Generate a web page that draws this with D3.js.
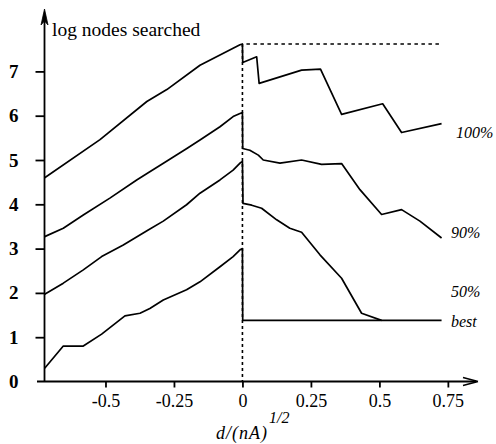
<!DOCTYPE html>
<html><head><meta charset="utf-8">
<script src="https://cdn.jsdelivr.net/npm/d3@7"></script>
<style>
html,body{margin:0;padding:0;background:#fff;}
</style></head>
<body>
<svg id="c" width="496" height="444" font-family="Liberation Serif"></svg>
<script>
// ---- data ----
const xTicks = [-0.5, -0.25, 0, 0.25, 0.5, 0.75];
const xTickLabels = ["-0.5", "-0.25", "0", "0.25", "0.5", "0.75"];
const yTicks = [0, 1, 2, 3, 4, 5, 6, 7];
const seriesNames = ["100%", "90%", "50%", "best"];

const x100 = [-0.722,-0.520,-0.349,-0.276,-0.155,-0.082,-0.034,-0.009,0.000,0.001,0.052,0.061,0.216,0.285,0.362,0.512,0.581,0.727];
const y100 = [4.60,5.46,6.32,6.59,7.14,7.37,7.52,7.60,7.62,7.20,7.33,6.73,7.03,7.05,6.03,6.27,5.62,5.82];

const x90 = [-0.722,-0.654,-0.581,-0.484,-0.386,-0.344,-0.290,-0.203,-0.155,-0.082,-0.034,-0.009,0.000,0.001,0.027,0.058,0.076,0.137,0.216,0.289,0.362,0.429,0.508,0.581,0.648,0.727];
const y90 = [3.27,3.46,3.76,4.14,4.55,4.71,4.92,5.26,5.45,5.75,5.98,6.05,6.07,5.26,5.22,5.11,5.00,4.93,5.00,4.90,4.92,4.33,3.77,3.88,3.62,3.24];

const x50 = [-0.722,-0.654,-0.581,-0.514,-0.435,-0.344,-0.289,-0.204,-0.155,-0.082,-0.034,-0.007,0.000,0.002,0.034,0.070,0.125,0.173,0.216,0.283,0.362,0.435,0.508];
const y50 = [1.97,2.22,2.52,2.82,3.08,3.42,3.62,3.99,4.25,4.55,4.77,4.94,4.97,4.02,3.98,3.91,3.65,3.46,3.37,2.86,2.33,1.54,1.38];

const xBest = [-0.722,-0.654,-0.581,-0.514,-0.429,-0.374,-0.338,-0.289,-0.204,-0.155,-0.082,-0.034,-0.007,0.000,0.001,0.727];
const yBest = [0.30,0.80,0.80,1.07,1.48,1.54,1.65,1.84,2.07,2.25,2.59,2.82,2.98,3.00,1.38,1.38];

const refLevel = 7.62;   // dashed horizontal level
const refXEnd = 0.727;

const FONT = "Liberation Serif";

// ---- scales ----
const svg = d3.select("#c");
const x = d3.scaleLinear().domain([-0.75, 0.86]).range([37, 478]);
const y = d3.scaleLinear().domain([0, 8]).range([381.5, 27.1]);
const axX = x(-0.7226);

// x axis
const gx = svg.append("g").attr("transform", `translate(0,${y(0)})`)
  .call(d3.axisBottom(x).tickValues(xTicks).tickFormat((d,i)=>xTickLabels[i]).tickSize(6).tickPadding(7).tickSizeOuter(0));
gx.attr("font-family", FONT);
gx.select(".domain").remove();
gx.selectAll(".tick line").attr("stroke","#000").attr("stroke-width",1.8);
gx.selectAll(".tick text").attr("font-size",18).style("font-family",FONT);
svg.append("line").attr("x1",37).attr("x2",476).attr("y1",y(0)).attr("y2",y(0)).attr("stroke","#000").attr("stroke-width",1.8);
svg.append("path").attr("d",`M${x(0.86)},${y(0)} l-15,-4 M${x(0.86)},${y(0)} l-15,4`).attr("stroke","#000").attr("stroke-width",1.5).attr("fill","none");

// y axis
const gy = svg.append("g").attr("transform", `translate(${axX},0)`)
  .call(d3.axisLeft(y).tickValues(yTicks).tickFormat(d3.format("d")).tickSize(9).tickPadding(17).tickSizeOuter(0));
gy.attr("font-family", FONT);
gy.select(".domain").remove();
gy.selectAll(".tick line").attr("stroke","#000").attr("stroke-width",1.8).filter(d=>d===0).remove();
gy.selectAll(".tick text").attr("font-size",19).style("font-family",FONT).attr("font-weight","bold");
svg.append("line").attr("x1",axX).attr("x2",axX).attr("y1",y(0)).attr("y2",14).attr("stroke","#000").attr("stroke-width",1.8);
svg.append("path").attr("d",`M${axX},9 L${axX-3.5},25 L${axX},21 L${axX+3.5},25 Z`).attr("fill","#000").attr("stroke","#000").attr("stroke-width",0.8);

svg.append("text").attr("x",52).attr("y",36).attr("font-size",19.5).style("font-family",FONT).text("log nodes searched");

// dashed reference lines
svg.append("line").attr("x1",x(0)).attr("x2",x(0)).attr("y1",y(refLevel)).attr("y2",y(0))
  .attr("stroke","#000").attr("stroke-width",1.6).attr("stroke-dasharray","3,3");
svg.append("line").attr("x1",x(0)+4).attr("x2",x(refXEnd)).attr("y1",y(refLevel)).attr("y2",y(refLevel))
  .attr("stroke","#000").attr("stroke-width",1.6).attr("stroke-dasharray","3.5,3.5");

// curves
const line = d3.line().x(d=>x(d[0])).y(d=>y(d[1]));
const series = [[x100,y100],[x90,y90],[x50,y50],[xBest,yBest]];
series.forEach(([xs,ys])=>{
  svg.append("path").datum(xs.map((v,i)=>[v,ys[i]])).attr("d",line)
    .attr("fill","none").attr("stroke","#000").attr("stroke-width",1.7).attr("stroke-linejoin","round");
});

// series labels
const labelPos = [[456,138],[451,238],[451,297],[451,327]];
seriesNames.forEach((n,i)=>{
  svg.append("text").attr("x",labelPos[i][0]).attr("y",labelPos[i][1]).attr("font-size",16)
    .style("font-family",FONT).attr("font-style","italic").text(n);
});

// x axis title
const t = svg.append("text").attr("x",216).attr("y",439).attr("font-size",18).style("font-family",FONT).attr("font-style","italic");
t.append("tspan").attr("letter-spacing",1).text("d/(nA)");
t.append("tspan").attr("dx",1).attr("dy",-16).attr("font-size",16).text("1/2");
</script></body></html>
